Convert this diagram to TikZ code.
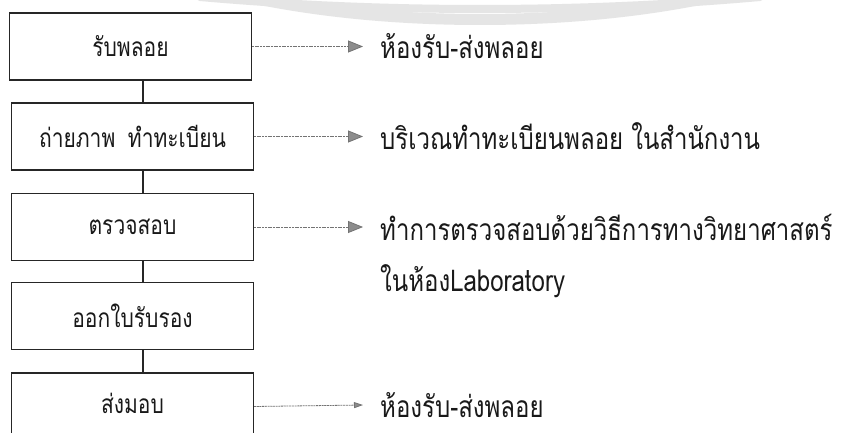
\documentclass[tikz,border=0pt]{standalone}
\usepackage{fontspec}
\usepackage{graphicx}
\newfontfamily\thaifont[Script=Thai]{Loma}
\newcommand\tall[1]{\scalebox{1}[1.25]{#1}}
\usetikzlibrary{arrows.meta}
\begin{document}
\begin{tikzpicture}[x=1pt,y=-1pt,
  stepbox/.style={draw=black!85, line width=1.1pt, minimum width=242pt, minimum height=67pt, inner sep=0pt, font=\thaifont\fontsize{21}{25}\selectfont, text=black!90},
  desc/.style={anchor=west, inner sep=0pt, font=\thaifont\fontsize{24}{28}\selectfont, text=black!90},
  link/.style={draw=black!85, line width=1.1pt},
  arr/.style={draw=black!55, line width=0.8pt, dash pattern=on 2pt off 0.7pt, -{Triangle[length=15pt,width=12pt,fill=black!45]}},
  arrsmall/.style={draw=black!55, line width=0.8pt, dash pattern=on 2pt off 0.7pt, -{Triangle[length=9pt,width=6pt,fill=black!45]}},
  wm/.style={draw=black!10, line cap=round}]
\useasboundingbox (0,0) rectangle (842,433);
\clip (0,0) rectangle (842,433);
\fill[white] (0,0) rectangle (842,433);
% watermark bands
\draw[wm, line width=8pt] (200,-3) .. controls (380,13) and (580,13) .. (760,-3);
\draw[wm, line width=11pt] (235,-6) .. controls (380,28) and (580,28) .. (725,-6);
\coordinate (spine) at (143,0);
\node[stepbox] (b1) at (130.5,46.5) {\tall{รับพลอย}};
\node[stepbox] (b2) at (132.5,136.5) {\tall{ถ่ายภาพ\hspace{0.6em}ทำทะเบียน}};
\node[stepbox] (b3) at (132.5,227) {\tall{ตรวจสอบ}};
\node[stepbox] (b4) at (132.5,316) {\tall{ออกใบรับรอง}};
\node[stepbox] (b5) at (132.5,406.5) {\raisebox{6pt}{\tall{ส่งมอบ}}};
\draw[link] (b1.south -| spine) -- (b2.north -| spine);
\draw[link] (b2.south -| spine) -- (b3.north -| spine);
\draw[link] (b3.south -| spine) -- (b4.north -| spine);
\draw[link] (b4.south -| spine) -- (b5.north -| spine);
\node[desc] (t1) at (380,46.5) {\tall{ห้องรับ-ส่งพลอย}};
\node[desc] (t2) at (380,136.5) {\tall{บริเวณทำทะเบียนพลอย ในสำนักงาน}};
\node[desc] (t3) at (380,227) {\tall{ทำการตรวจสอบด้วยวิธีการทางวิทยาศาสตร์}};
\node[desc] (t3b) at (380,281) {\tall{ในห้องLaboratory}};
\node[desc] (t5) at (380,405) {\tall{ห้องรับ-ส่งพลอย}};
\draw[arr] (b1.east) -- ([xshift=-17pt]t1.west);
\draw[arr] (b2.east) -- ([xshift=-17pt]t2.west);
\draw[arr] (b3.east) -- ([xshift=-17pt]t3.west);
\draw[arrsmall] (b5.east) -- ([xshift=-17pt]t5.west);
\end{tikzpicture}
\end{document}
